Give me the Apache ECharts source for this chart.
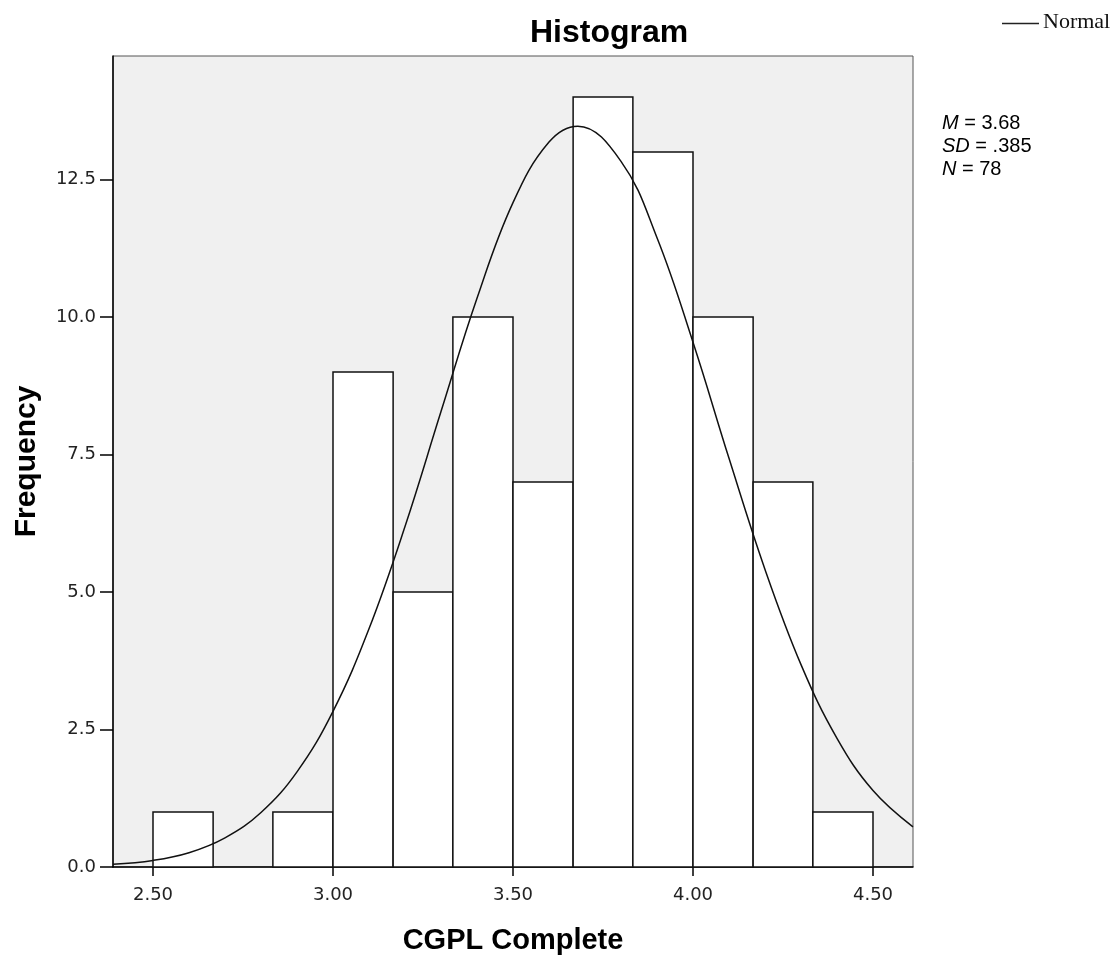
<!DOCTYPE html>
<html><head><meta charset="utf-8">
<script src="https://cdn.jsdelivr.net/npm/echarts@6/dist/echarts.min.js"></script>
<style>html,body{margin:0;padding:0;background:#fff}#c{width:1118px;height:955px}</style>
</head><body><div id="c"></div>
<script>
// Histogram bins (CGPL Complete) and frequencies
const binEdges = [2.500, 2.667, 2.833, 3.000, 3.167, 3.333, 3.500, 3.667, 3.833, 4.000, 4.167, 4.333, 4.500];
const frequencies = [1, 0, 1, 9, 5, 10, 7, 14, 13, 10, 7, 1];
// Normal curve points
const curveX = [2.389, 2.5, 2.6, 2.7, 2.8, 2.9, 3.0, 3.1, 3.2, 3.3, 3.4, 3.5, 3.6, 3.68, 3.8, 3.9, 4.0, 4.1, 4.2, 4.3, 4.4, 4.5, 4.611];
const curveY = [0.05, 0.12, 0.26, 0.53, 0.99, 1.73, 2.83, 4.33, 6.19, 8.28, 10.34, 12.08, 13.18, 13.47, 12.83, 11.44, 9.54, 7.43, 5.41, 3.68, 2.34, 1.39, 0.73];
const xTicks = [2.5, 3.0, 3.5, 4.0, 4.5];
const yTicks = [0, 2.5, 5.0, 7.5, 10.0, 12.5];
const xRange = [2.3889, 4.6111];
const yRange = [0, 14.745];
const titleText = 'Histogram';
const xName = 'CGPL Complete';
const yName = 'Frequency';
const legendName = 'Normal';
const statLabels = ['M', 'SD', 'N'];
const statValues = ['3.68', '.385', '78'];

const barData = frequencies.map((f, i) => [binEdges[i], binEdges[i + 1], f]);
const curveData = curveX.map((x, i) => [x, curveY[i]]);

const chart = echarts.init(document.getElementById('c'), null, {renderer: 'canvas'});
const tickFont = {fontFamily: 'DejaVu Sans', fontSize: 18, color: '#222'};
chart.setOption({
  animation: false,
  backgroundColor: '#fff',
  title: {
    text: titleText, left: 525, top: 12,
    textStyle: {fontFamily: 'Liberation Sans', fontWeight: 'bold', fontSize: 32, color: '#000'}
  },
  grid: {
    left: 113, top: 56, width: 800, height: 811,
    containLabel: false, outerBoundsMode: 'none',
    show: true, backgroundColor: '#f0f0f0', borderColor: '#555', borderWidth: 1
  },
  xAxis: {
    type: 'value', min: xRange[0], max: xRange[1],
    name: xName, nameLocation: 'middle', nameGap: 59,
    nameTextStyle: {fontFamily: 'Liberation Sans', fontWeight: 'bold', fontSize: 29, color: '#000'},
    axisLine: {show: true, onZero: false, lineStyle: {color: '#000', width: 1.5}},
    axisTick: {show: true, inside: false, length: 9, customValues: xTicks, lineStyle: {color: '#000', width: 1.5}},
    axisLabel: Object.assign({margin: 19, customValues: xTicks, formatter: v => v.toFixed(2)}, tickFont),
    splitLine: {show: false}
  },
  yAxis: {
    type: 'value', min: yRange[0], max: yRange[1],
    name: yName, nameLocation: 'middle', nameGap: 71, nameRotate: 90,
    nameTextStyle: {fontFamily: 'Liberation Sans', fontWeight: 'bold', fontSize: 30, color: '#000'},
    axisLine: {show: true, onZero: false, lineStyle: {color: '#000', width: 1.5}},
    axisTick: {show: true, inside: false, length: 13, customValues: yTicks, lineStyle: {color: '#000', width: 1.5}},
    axisLabel: Object.assign({margin: 17, customValues: yTicks, formatter: v => v.toFixed(1)}, tickFont),
    splitLine: {show: false}
  },
  series: [
    {
      type: 'custom', z: 2,
      encode: {x: [0, 1], y: 2},
      data: barData,
      renderItem: function (params, api) {
        const x0 = api.value(0), x1 = api.value(1), f = api.value(2);
        if (!f) return null;
        const p0 = api.coord([x0, f]);
        const p1 = api.coord([x1, 0]);
        return {
          type: 'rect',
          shape: {x: p0[0], y: p0[1], width: p1[0] - p0[0], height: p1[1] - p0[1]},
          style: {fill: '#fff', stroke: '#111', lineWidth: 1.5}
        };
      }
    },
    {
      type: 'line', z: 3, name: legendName,
      data: curveData, smooth: 0.4, showSymbol: false, symbol: 'none',
      lineStyle: {color: '#111', width: 1.5}, clip: true
    }
  ],
  graphic: [
    {type: 'line', shape: {x1: 1002, y1: 23.5, x2: 1039, y2: 23.5}, style: {stroke: '#222', lineWidth: 1.3}},
    {type: 'text', left: 1043, top: 11, style: {text: legendName, font: '22px "Liberation Serif"', fill: '#111'}},
    {
      type: 'text', left: 942, top: 113,
      style: {
        text: statLabels.map((l, i) => '{i|' + l + '}{n| = ' + statValues[i] + '}').join('\n'),
        rich: {
          i: {fontFamily: 'Liberation Sans', fontStyle: 'italic', fontSize: 20, fill: '#000', lineHeight: 23},
          n: {fontFamily: 'Liberation Sans', fontSize: 20, fill: '#000', lineHeight: 23}
        }
      }
    }
  ]
});
</script>
</body></html>
